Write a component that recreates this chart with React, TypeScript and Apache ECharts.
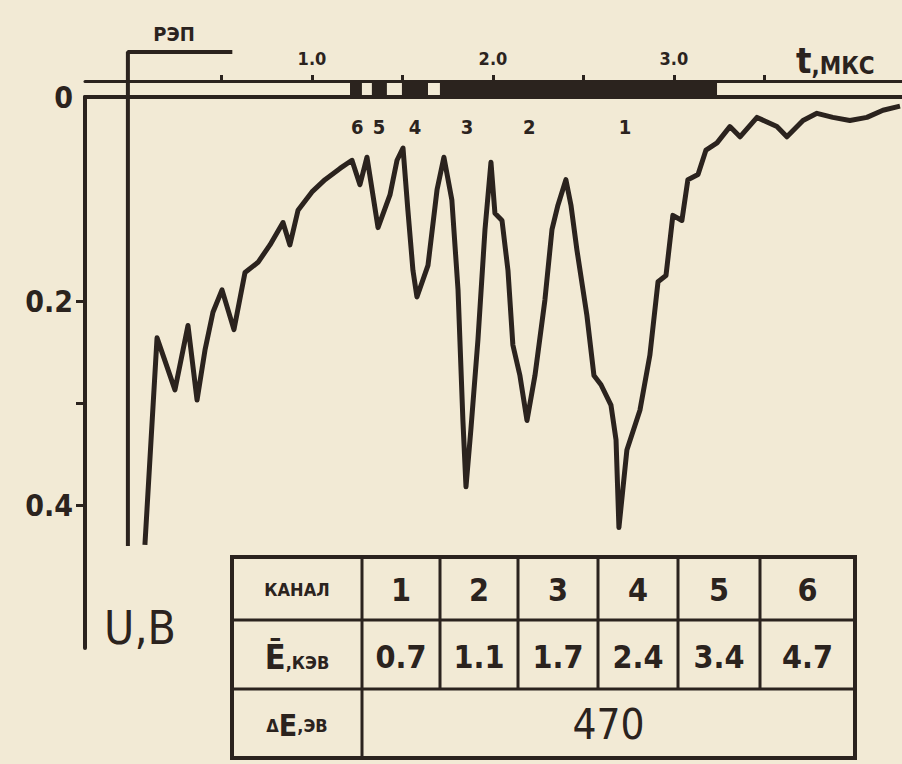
import React, { useEffect, useRef } from "react";
import * as echarts from "echarts";

const INK = "#2b231e";
const PAPER = "#f2ead5";
const FONT = "'DejaVu Sans Condensed', 'DejaVu Sans', sans-serif";

// Signal trace: time (µs) and voltage (V, drawn downward)
const timeUs = [
  0.077, 0.144, 0.177, 0.243, 0.315, 0.365, 0.409, 0.453, 0.503, 0.569,
  0.63, 0.702, 0.768, 0.84, 0.878, 0.923, 1.0, 1.072, 1.155, 1.221,
  1.265, 1.304, 1.365, 1.431, 1.47, 1.503, 1.53, 1.558, 1.58, 1.641,
  1.691, 1.729, 1.773, 1.807, 1.834, 1.851, 1.878, 1.917, 1.956, 1.989,
  2.011, 2.05, 2.083, 2.11, 2.149, 2.188, 2.232, 2.287, 2.326, 2.359,
  2.403, 2.431, 2.464, 2.519, 2.558, 2.597, 2.652, 2.68, 2.696, 2.74,
  2.812, 2.867, 2.912, 2.956, 2.994, 3.044, 3.077, 3.133, 3.177, 3.238,
  3.309, 3.365, 3.459, 3.569, 3.624, 3.713, 3.79, 3.878, 3.972, 4.066,
  4.155, 4.249,
];
const voltageV = [
  0.439, 0.236, 0.253, 0.287, 0.224, 0.297, 0.248, 0.211, 0.189, 0.228,
  0.172, 0.162, 0.145, 0.123, 0.145, 0.111, 0.093, 0.081, 0.07, 0.062,
  0.086, 0.059, 0.128, 0.096, 0.062, 0.05, 0.111, 0.17, 0.196, 0.165,
  0.091, 0.059, 0.101, 0.189, 0.317, 0.382, 0.326, 0.238, 0.13, 0.064,
  0.114, 0.121, 0.17, 0.243, 0.273, 0.317, 0.273, 0.199, 0.13, 0.106,
  0.081, 0.106, 0.15, 0.214, 0.273, 0.282, 0.302, 0.336, 0.422, 0.346,
  0.307, 0.253, 0.181, 0.175, 0.116, 0.121, 0.081, 0.076, 0.052, 0.045,
  0.029, 0.039, 0.02, 0.029, 0.039, 0.023, 0.016, 0.02, 0.023, 0.02,
  0.013, 0.009,
];

// Axes
const X_MIN = -0.254;
const X_MAX = 4.26;
const Y_MAX = 0.54;
const xTickValues = [0.5, 1, 1.5, 2, 2.5, 3, 3.5];
const xLabelValues = [1, 2, 3];
const yTickValues = [0.2, 0.3, 0.4];
const yLabelValues = [0, 0.2, 0.4];

// Channel time windows (black band) and labels
const bandStarts = [1.21, 1.331, 1.497, 1.707];
const bandEnds = [1.276, 1.414, 1.641, 3.238];
const channelTimes = [1.25, 1.37, 1.57, 1.856, 2.2, 2.73];
const channelNames = ["6", "5", "4", "3", "2", "1"];
const channelLabelLevel = 0.029;

// РЭП marker
const repT = -0.017;
const repTop = -0.044;
const repBottom = 0.44;
const repHookEnd = 0.56;

// Table
const tableChannels = ["1", "2", "3", "4", "5", "6"];
const tableEnergies = ["0.7", "1.1", "1.7", "2.4", "3.4", "4.7"];
const deltaE = "470";

function buildTable() {
  const cols = [232, 362, 440, 518, 598, 678, 760, 855];
  const rows = [557, 620, 689, 758];
  const els: any[] = [];
  els.push({
    type: "rect",
    shape: { x: cols[0], y: rows[0], width: cols[7] - cols[0], height: rows[3] - rows[0] },
    style: { fill: "none", stroke: INK, lineWidth: 4 },
  });
  [rows[1], rows[2]].forEach((y) =>
    els.push({ type: "line", shape: { x1: cols[0], y1: y, x2: cols[7], y2: y }, style: { stroke: INK, lineWidth: 3 } })
  );
  els.push({ type: "line", shape: { x1: cols[1], y1: rows[0], x2: cols[1], y2: rows[3] }, style: { stroke: INK, lineWidth: 3 } });
  for (let i = 2; i < 7; i++) {
    els.push({ type: "line", shape: { x1: cols[i], y1: rows[0], x2: cols[i], y2: rows[2] }, style: { stroke: INK, lineWidth: 3 } });
  }
  const cx0 = (cols[0] + cols[1]) / 2;
  const ry = [(rows[0] + rows[1]) / 2, (rows[1] + rows[2]) / 2, (rows[2] + rows[3]) / 2];
  els.push({
    type: "text", x: cx0, y: ry[0] + 1,
    style: { text: "КАНАЛ", fill: INK, fontSize: 18, fontWeight: "bold", fontFamily: FONT, textAlign: "center", textVerticalAlign: "middle" },
  });
  els.push({
    type: "text", x: cx0, y: ry[1] + 2,
    style: {
      text: "{a|Ē}{b|,КЭВ}", fill: INK, textAlign: "center", textVerticalAlign: "middle",
      rich: {
        a: { fontSize: 34, fontWeight: "bold", fontFamily: FONT, fill: INK },
        b: { fontSize: 18, fontWeight: "bold", fontFamily: FONT, fill: INK, verticalAlign: "bottom", padding: [0, 0, 2, 0] },
      },
    },
  });
  els.push({
    type: "text", x: cx0, y: ry[2] + 2,
    style: {
      text: "{c|Δ}{a|E}{b|,ЭВ}", fill: INK, textAlign: "center", textVerticalAlign: "middle",
      rich: {
        c: { fontSize: 18, fontWeight: "bold", fontFamily: FONT, fill: INK },
        a: { fontSize: 30, fontWeight: "bold", fontFamily: FONT, fill: INK },
        b: { fontSize: 18, fontWeight: "bold", fontFamily: FONT, fill: INK },
      },
    },
  });
  tableChannels.forEach((c, i) => {
    const cx = (cols[i + 1] + cols[i + 2]) / 2;
    els.push({
      type: "text", x: cx, y: ry[0] + 1,
      style: { text: c, fill: INK, fontSize: 32, fontWeight: "bold", fontFamily: FONT, textAlign: "center", textVerticalAlign: "middle" },
    });
    els.push({
      type: "text", x: cx, y: ry[1] + 2,
      style: { text: tableEnergies[i], fill: INK, fontSize: 32, fontWeight: "bold", fontFamily: FONT, textAlign: "center", textVerticalAlign: "middle" },
    });
  });
  els.push({
    type: "text", x: (cols[1] + cols[7]) / 2, y: ry[2] + 1,
    style: { text: deltaE, fill: INK, fontSize: 42, fontFamily: FONT, textAlign: "center", textVerticalAlign: "middle" },
  });
  return els;
}

export default function App() {
  const ref = useRef<HTMLDivElement>(null);
  useEffect(() => {
    if (!ref.current) return;
    const chart = echarts.init(ref.current, undefined, { renderer: "svg" });
    const option: any = {
      animation: false,
      backgroundColor: PAPER,
      grid: [
        { left: 85, right: 0, top: 81, height: 16 },
        { left: 85, right: 0, top: 97, bottom: 116 },
      ],
      xAxis: [
        {
          gridIndex: 0, type: "value", position: "top", min: X_MIN, max: X_MAX,
          axisLine: { show: true, onZero: false, lineStyle: { color: INK, width: 3 } },
          axisTick: { show: true, customValues: xTickValues, length: 6, lineStyle: { color: INK, width: 3 } },
          axisLabel: {
            show: true, customValues: xLabelValues, formatter: (v: number) => v.toFixed(1), margin: 14,
            color: INK, fontSize: 18, fontWeight: "bold", fontFamily: FONT,
          },
          splitLine: { show: false },
        },
        {
          gridIndex: 1, type: "value", position: "top", min: X_MIN, max: X_MAX,
          axisLine: { show: true, onZero: false, lineStyle: { color: INK, width: 4 } },
          axisTick: { show: false }, axisLabel: { show: false }, splitLine: { show: false },
        },
      ],
      yAxis: [
        { gridIndex: 0, type: "value", min: 0, max: 1, show: false },
        {
          gridIndex: 1, type: "value", inverse: true, min: 0, max: Y_MAX,
          axisLine: { show: true, onZero: false, lineStyle: { color: INK, width: 4 } },
          axisTick: { show: true, customValues: yTickValues, length: 9, lineStyle: { color: INK, width: 3 } },
          axisLabel: {
            show: true, customValues: yLabelValues, margin: 12,
            formatter: (v: number) => (v === 0 ? "0" : v.toFixed(1)),
            color: INK, fontSize: 30, fontWeight: "bold", fontFamily: FONT,
          },
          splitLine: { show: false },
        },
      ],
      series: [
        {
          type: "custom", xAxisIndex: 0, yAxisIndex: 0,
          data: bandStarts.map((s, i) => [s, bandEnds[i]]),
          encode: { x: [0, 1] },
          renderItem: (params: any, api: any) => {
            const p0 = api.coord([api.value(0), 1]);
            const p1 = api.coord([api.value(1), 0]);
            return {
              type: "rect",
              shape: { x: p0[0], y: p0[1], width: p1[0] - p0[0], height: p1[1] - p0[1] },
              style: { fill: INK },
            };
          },
        },
        {
          type: "line", xAxisIndex: 1, yAxisIndex: 1, symbol: "none", clip: false,
          data: [[repHookEnd, repTop], [repT, repTop], [repT, repBottom]],
          lineStyle: { color: INK, width: 4 },
        },
        {
          type: "line", xAxisIndex: 1, yAxisIndex: 1, symbol: "none",
          data: timeUs.map((t, i) => [t, voltageV[i]]),
          lineStyle: { color: INK, width: 5, join: "round" },
        },
        {
          type: "custom", xAxisIndex: 1, yAxisIndex: 1,
          data: channelTimes.map((t) => [t, channelLabelLevel]),
          encode: { x: 0, y: 1 },
          renderItem: (params: any, api: any) => {
            const p = api.coord([api.value(0), api.value(1)]);
            return {
              type: "text",
              x: p[0],
              y: p[1],
              style: {
                text: channelNames[params.dataIndex],
                fill: INK,
                fontSize: 20,
                fontWeight: "bold",
                fontFamily: FONT,
                textAlign: "center",
                textVerticalAlign: "middle",
              },
            };
          },
        },
      ],
      graphic: {
        elements: [
          {
            type: "text", x: 174, y: 34,
            style: { text: "РЭП", fill: INK, fontSize: 20, fontWeight: "bold", fontFamily: FONT, textAlign: "center", textVerticalAlign: "middle" },
          },
          {
            type: "text", x: 796, y: 60,
            style: {
              text: "{t|t}{m|,МКС}", fill: INK, textAlign: "left", textVerticalAlign: "middle",
              rich: {
                t: { fontSize: 36, fontWeight: "bold", fontFamily: FONT, fill: INK },
                m: { fontSize: 24, fontWeight: "bold", fontFamily: FONT, fill: INK, verticalAlign: "bottom" },
              },
            },
          },
          {
            type: "text", x: 140, y: 628,
            style: { text: "U,В", fill: INK, fontSize: 46, fontFamily: FONT, textAlign: "center", textVerticalAlign: "middle" },
          },
          ...buildTable(),
        ],
      },
    };
    chart.setOption(option);
    return () => chart.dispose();
  }, []);
  return (
    <div
      ref={ref}
      style={{ position: "fixed", left: 0, top: 0, width: 902, height: 764 }}
    />
  );
}
